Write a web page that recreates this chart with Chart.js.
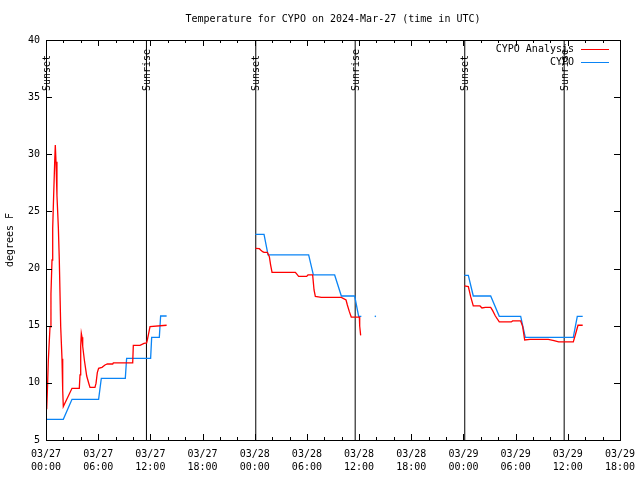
<!DOCTYPE html>
<html>
<head>
<meta charset="utf-8">
<script src="https://cdn.jsdelivr.net/npm/chart.js@4"></script>
<style>
html,body{margin:0;padding:0;background:#fff;}
canvas{display:block;}
</style>
</head>
<body>
<canvas id="c" width="640" height="480"></canvas>
<script>
// Hours since 2024-03-27 00:00 UTC
const analysisHours = [
  0.08,0.15,0.27,0.46,0.57,0.69,0.77,0.88,1.0,1.07,1.15,1.26,1.42,1.53,1.69,1.84,1.92,1.99,2.99,3.83,3.91,3.99,4.06,4.14,4.22,4.41,4.68,4.94,5.06,5.63,5.75,5.9,6.05,6.44,6.78,7.05,7.67,7.74,9.97,10.04,10.81,11.27,11.57,11.65,11.8,11.96,13.87,
  20,
  24.07,24.53,24.68,24.91,25.07,25.45,25.68,25.83,25.99,28.67,28.82,29.05,29.97,30.12,30.66,30.82,30.97,31.66,33.96,34.5,34.65,34.88,35.1,36.03,36.07,36.18,
  44,
  48.1,48.56,48.83,49.13,49.9,50.13,50.51,51.13,51.36,51.67,52.12,53.5,53.65,54.58,54.81,55.04,55.65,57.76,58.41,58.95,60.63,60.86,61.17,61.71
];
const analysisTemps = [
  7.69,9.1,12.0,14.9,17.8,20.75,23.5,26.4,29.35,30.8,29.35,26.4,23.6,20.75,14.9,12.1,9.35,7.92,9.52,9.52,10.69,13.2,14.33,14.0,13.2,12.0,10.6,9.9,9.6,9.6,9.95,10.9,11.27,11.36,11.56,11.65,11.65,11.75,11.75,13.28,13.28,13.46,13.5,13.75,14.3,14.92,15.04,
  null,
  21.77,21.74,21.63,21.48,21.42,21.42,21.04,20.31,19.67,19.67,19.53,19.32,19.32,19.44,19.44,18.13,17.57,17.48,17.48,17.25,16.81,16.23,15.76,15.76,14.98,14.16,
  null,
  18.48,18.42,17.54,16.73,16.73,16.55,16.61,16.6,16.32,15.85,15.33,15.33,15.42,15.42,14.92,13.75,13.81,13.81,13.69,13.58,13.58,14.19,15.04,15.04
];
const obsHours = [
  0.08,1.99,2.99,6.05,6.36,9.12,9.27,12.03,12.15,13.03,13.18,13.87,
  20,
  24.07,25.07,25.53,30.2,30.74,33.19,33.96,35.49,35.95,36.26,
  44,
  48.1,48.56,49.13,51.13,52.12,54.58,55.11,60.63,61.09,61.71
];
const obsTemps = [
  6.81,6.81,8.56,8.56,10.4,10.4,12.15,12.15,13.98,13.98,15.85,15.85,
  null,
  23.0,23.0,21.19,21.19,19.44,19.44,17.6,17.6,15.82,15.82,
  null,
  19.41,19.41,17.6,17.6,15.82,15.82,13.98,13.98,15.82,15.82
];
const obsDotHours = [37.87];
const obsDotTemps = [15.82];
const sunEventHours = [0.05, 11.55, 24.12, 35.55, 48.15, 59.58];
const sunEventLabels = ["Sunset","Sunrise","Sunset","Sunrise","Sunset","Sunrise"];
const xTickDays = ["03/27","03/28","03/29","03/30"];
const titleText = "Temperature for CYPO on 2024-Mar-27 (time in UTC)";
const yLabelText = "degrees F";
const seriesNames = ["CYPO Analysis","CYPO"];

const FONT = "'DejaVu Sans Mono', 'Liberation Mono', monospace";
const RED = "#ff0000";
const BLUE = "#0a84f5";

function toXY(xs, ys){ return xs.map((x,i)=>({x:x, y:ys[i]})); }
const sunData = [];
sunEventHours.forEach(h=>{ sunData.push({x:h,y:5},{x:h,y:40},{x:h,y:null}); });

function pad2(n){ return (n<10?"0":"")+n; }

const overlay = {
  id:'overlay',
  afterDraw(chart){
    const ctx = chart.ctx, a = chart.chartArea;
    const xs = chart.scales.x, ys = chart.scales.y;
    ctx.save();
    ctx.strokeStyle = '#000'; ctx.lineWidth = 1;
    ctx.strokeRect(Math.round(a.left)+0.5, Math.round(a.top)+0.5, Math.round(a.right-a.left), Math.round(a.bottom-a.top));
    ctx.beginPath();
    for(let h=0; h<=66; h+=2){
      const px = Math.round(xs.getPixelForValue(h))+0.5;
      const len = (h%6===0)?6:3;
      ctx.moveTo(px, a.bottom); ctx.lineTo(px, a.bottom-len);
      ctx.moveTo(px, a.top); ctx.lineTo(px, a.top+len);
    }
    for(let v=5; v<=40; v+=5){
      const py = Math.round(ys.getPixelForValue(v))+0.5;
      ctx.moveTo(a.left, py); ctx.lineTo(a.left+6, py);
      ctx.moveTo(a.right, py); ctx.lineTo(a.right-6, py);
    }
    ctx.stroke();
    ctx.fillStyle = '#000';
    ctx.font = "10px " + FONT;
    ctx.textAlign = 'center'; ctx.textBaseline = 'middle';
    ctx.fillText(titleText, (a.left+a.right)/2, 19);
    ctx.save();
    ctx.translate(10, 240); ctx.rotate(-Math.PI/2);
    ctx.fillText(yLabelText, 0, 0);
    ctx.restore();
    sunEventHours.forEach((h,i)=>{
      const px = xs.getPixelForValue(h);
      ctx.save();
      ctx.translate(px+1, 91); ctx.rotate(-Math.PI/2);
      ctx.textAlign = 'left'; ctx.textBaseline = 'middle';
      ctx.fillText(sunEventLabels[i], 0, 0);
      ctx.restore();
    });
    const rows = [[seriesNames[0], RED, 49.5],[seriesNames[1], BLUE, 62.5]];
    rows.forEach(r=>{
      ctx.textAlign = 'right'; ctx.textBaseline = 'middle';
      ctx.fillStyle = '#000';
      ctx.fillText(r[0], 574, r[2]);
      ctx.strokeStyle = r[1];
      ctx.beginPath(); ctx.moveTo(581, Math.round(r[2])-0.5); ctx.lineTo(609, Math.round(r[2])-0.5); ctx.stroke();
    });
    ctx.restore();
  }
};

new Chart(document.getElementById('c'), {
  type:'line',
  data:{
    datasets:[
      {label:'sun', data:sunData, borderColor:'#000', borderWidth:1, pointRadius:0, spanGaps:false, order:3},
      {label:seriesNames[1], data:toXY(obsHours, obsTemps), borderColor:BLUE, borderWidth:1.3, pointRadius:0, spanGaps:false, order:2},
      {label:seriesNames[0], data:toXY(analysisHours, analysisTemps), borderColor:RED, borderWidth:1.3, pointRadius:0, spanGaps:false, order:1},
      {label:'obsdot', data:toXY(obsDotHours, obsDotTemps), borderColor:BLUE, backgroundColor:BLUE, showLine:false, pointRadius:0.8, pointBorderWidth:0, order:2}
    ]
  },
  options:{
    responsive:false, animation:false, devicePixelRatio:1,
    layout:{padding:{top:40, right:20, left:0, bottom:0}},
    plugins:{legend:{display:false}, tooltip:{enabled:false}, title:{display:false}},
    scales:{
      x:{
        type:'linear', min:0, max:66,
        grid:{display:false}, border:{display:false},
        afterFit(s){ s.height = 40; },
        ticks:{
          stepSize:6, autoSkip:false, maxRotation:0, color:'#000', padding:0,
          font:{family:FONT, size:10, lineHeight:1.3},
          callback(v){ const d = Math.floor(v/24); return [xTickDays[d], pad2(v%24)+":00"]; }
        }
      },
      y:{
        min:5, max:40,
        grid:{display:false}, border:{display:false},
        afterFit(s){ s.width = 46; },
        ticks:{stepSize:5, color:'#000', padding:-2, font:{family:FONT, size:10}}
      }
    }
  },
  plugins:[overlay]
});
</script>
</body>
</html>
